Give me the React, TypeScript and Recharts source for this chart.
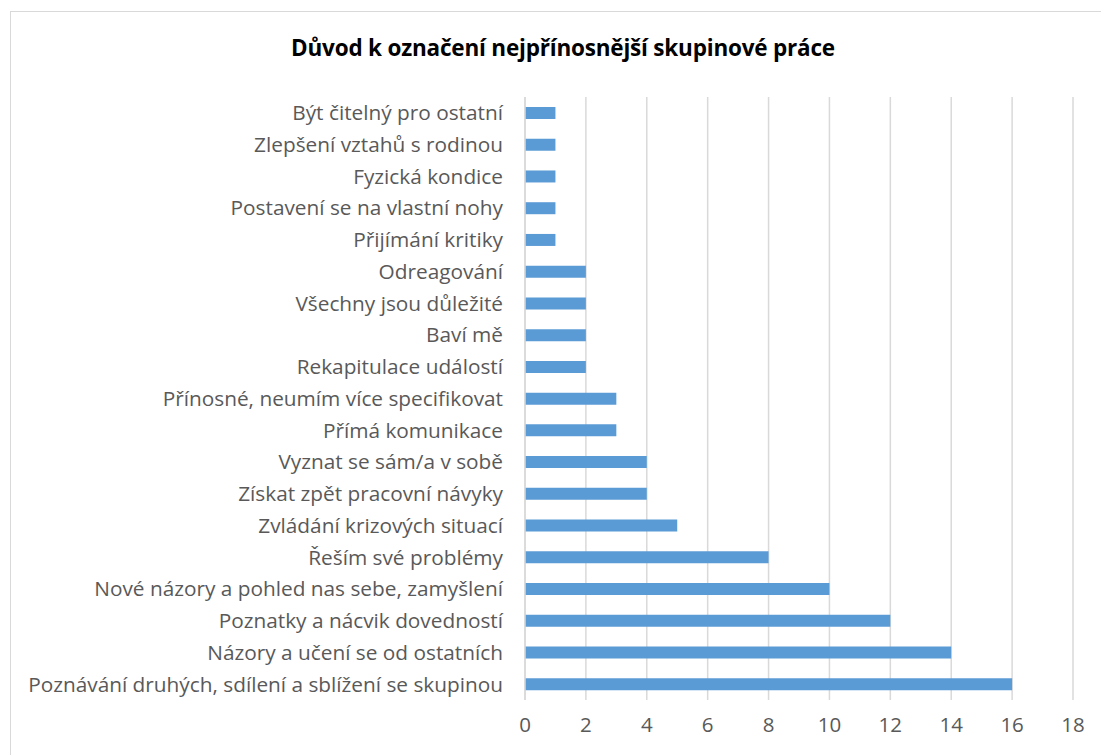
import React from 'react'
import { BarChart, Bar, XAxis, YAxis, CartesianGrid } from 'recharts'

const reasons = [
  'Být čitelný pro ostatní',
  'Zlepšení vztahů s rodinou',
  'Fyzická kondice',
  'Postavení se na vlastní nohy',
  'Přijímání kritiky',
  'Odreagování',
  'Všechny jsou důležité',
  'Baví mě',
  'Rekapitulace událostí',
  'Přínosné, neumím více specifikovat',
  'Přímá komunikace',
  'Vyznat se sám/a v sobě',
  'Získat zpět pracovní návyky',
  'Zvládání krizových situací',
  'Řeším své problémy',
  'Nové názory a pohled nas sebe, zamyšlení',
  'Poznatky a nácvik dovedností',
  'Názory a učení se od ostatních',
  'Poznávání druhých, sdílení a sblížení se skupinou',
]

const counts = [1, 1, 1, 1, 1, 2, 2, 2, 2, 3, 3, 4, 4, 5, 8, 10, 12, 14, 16]

const xTicks = [0, 2, 4, 6, 8, 10, 12, 14, 16, 18]

const chartData = reasons.map((reason, i) => ({ reason, count: counts[i] }))

const FONT = '"Open Sans", Lato, sans-serif'

export default function App() {
  return (
    <div style={{ position: 'absolute', left: 0, top: 0, width: 1101, height: 755, background: '#fff', overflow: 'hidden', fontFamily: FONT }}>
      <div
        style={{
          position: 'absolute',
          left: 10,
          top: 11,
          width: 1100,
          height: 760,
          border: '1px solid #d9d9d9',
        }}
      />
      <div
        style={{
          position: 'absolute',
          left: 0,
          top: 32,
          width: 1126,
          textAlign: 'center',
          fontSize: 22.5,
          fontWeight: 700,
          letterSpacing: -0.2,
          color: '#000',
        }}
      >
        Důvod k označení nejpřínosnější skupinové práce
      </div>
      <div style={{ position: 'absolute', left: 0, top: 0 }}>
        <BarChart
          width={1101}
          height={755}
          layout="vertical"
          data={chartData}
          margin={{ top: 97, right: 28, bottom: 0, left: 0 }}
          barSize={12}
        >
          <CartesianGrid horizontal={false} stroke="#d9d9d9" strokeWidth={1.5} />
          <XAxis
            type="number"
            domain={[0, 18]}
            ticks={xTicks}
            axisLine={false}
            tickLine={false}
            tickMargin={11}
            height={55}
            tick={{ fill: '#595959', fontSize: 20.5, fontFamily: FONT }}
          />
          <YAxis
            type="category"
            dataKey="reason"
            width={525}
            axisLine={{ stroke: '#d9d9d9', strokeWidth: 1.5 }}
            tickLine={false}
            tickSize={0}
            tickMargin={22}
            interval={0}
            tick={{ fill: '#595959', fontSize: 20.8, fontFamily: FONT }}
          />
          <Bar dataKey="count" fill="#5b9bd5" isAnimationActive={false} />
        </BarChart>
      </div>
    </div>
  )
}
